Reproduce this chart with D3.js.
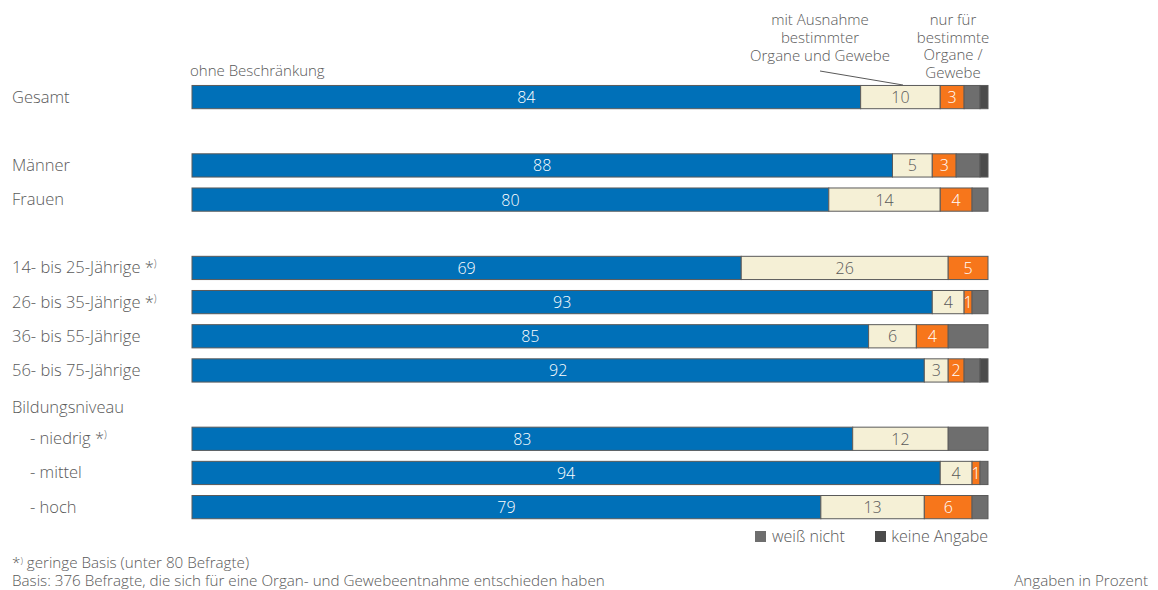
<!DOCTYPE html>
<html><head><meta charset="utf-8">
<script src="https://cdn.jsdelivr.net/npm/d3@7/dist/d3.min.js"></script>
<style>body{margin:0;background:#fff;} text{font-family:"Open Sans",sans-serif;font-weight:300;}</style>
</head><body><svg id="c" width="1158" height="590"></svg>
<script>
const categories = ["Gesamt","Männer","Frauen","14- bis 25-Jährige","26- bis 35-Jährige","36- bis 55-Jährige","56- bis 75-Jährige","- niedrig","- mittel","- hoch"];
const ohneBeschraenkung = [84,88,80,69,93,85,92,83,94,79];
const mitAusnahme      = [10,5,14,26,4,6,3,12,4,13];
const nurFuer          = [3,3,4,5,1,4,2,0,1,6];
const weissNicht       = [2,3,2,0,2,5,2,5,1,2];
const keineAngabe      = [1,1,0,0,0,0,1,0,0,0];
const smallBase        = [false,false,false,true,true,false,false,true,false,false];
const seriesNames = ["ohne Beschränkung","mit Ausnahme bestimmter Organe und Gewebe","nur für bestimmte Organe / Gewebe","weiß nicht","keine Angabe"];
const legendNames = ["weiß nicht","keine Angabe"];
const groupHeader = "Bildungsniveau";
const footnotes = ["geringe Basis (unter 80 Befragte)","Basis: 376 Befragte, die sich für eine Organ- und Gewebeentnahme entschieden haben"];
const unitNote = "Angaben in Prozent";

const colors = ["#0070b8","#f5f0d6","#f7761b","#6e6e6e","#4b4b4b"];
const labelColors = ["#ffffff","#595959","#ffffff",null,null];
const textColor = "#595959";

const svg = d3.select("#c");
const keys = ["s0","s1","s2","s3","s4"];
const table = categories.map((c,i)=>({cat:c, s0:ohneBeschraenkung[i], s1:mitAusnahme[i], s2:nurFuer[i], s3:weissNicht[i], s4:keineAngabe[i], star:smallBase[i]}));

// slot layout: spacer rows between groups
const slots = ["Gesamt","_g1","Männer","Frauen","_g2",categories[3],categories[4],categories[5],categories[6],groupHeader,categories[7],categories[8],categories[9]];
const y = d3.scaleBand().domain(slots).range([80, 80+13*34.17]).paddingInner(0.32).paddingOuter(0.16);
const x = d3.scaleLinear().domain([0,100]).range([192,988]);

const stack = d3.stack().keys(keys)(table);

const g = svg.append("g");
stack.forEach((layer,li)=>{
  layer.forEach(d=>{
    const w = x(d[1])-x(d[0]);
    if (w<=0) return;
    g.append("rect")
      .attr("x", x(d[0])).attr("y", y(d.data.cat))
      .attr("width", w).attr("height", y.bandwidth())
      .attr("fill", colors[li]).attr("stroke","#5a5a5a").attr("stroke-width",1);
    if (labelColors[li]) {
      g.append("text")
        .attr("x",(x(d[0])+x(d[1]))/2).attr("y", y(d.data.cat)+y.bandwidth()/2+6)
        .attr("text-anchor","middle").attr("font-size",16).attr("fill",labelColors[li])
        .text(d[1]-d[0]);
    }
  });
});

// row labels
table.forEach(d=>{
  const indent = d.cat.startsWith("-") ? 30 : 12;
  const t = svg.append("text").attr("x",indent).attr("y",y(d.cat)+y.bandwidth()/2+5.5)
    .attr("font-size",16.5).attr("fill",textColor);
  t.append("tspan").text(d.cat);
  if (d.star) {
    t.append("tspan").text(" *");
    t.append("tspan").attr("font-size",10).attr("dy",-6).text(")");
  }
});
svg.append("text").attr("x",12).attr("y",y(groupHeader)+y.bandwidth()/2+8.5)
  .attr("font-size",16.5).attr("fill",textColor).text(groupHeader);

// series headers
svg.append("text").attr("x",190).attr("y",76).attr("font-size",15).attr("fill",textColor).text(seriesNames[0]);
const h2 = ["mit Ausnahme","bestimmter","Organe und Gewebe"];
const t2 = svg.append("text").attr("text-anchor","middle").attr("font-size",15).attr("fill",textColor);
h2.forEach((l,i)=>t2.append("tspan").attr("x",820).attr("y",25+i*18).text(l));
const h3 = ["nur für","bestimmte","Organe /","Gewebe"];
const t3 = svg.append("text").attr("text-anchor","middle").attr("font-size",15).attr("fill",textColor);
h3.forEach((l,i)=>t3.append("tspan").attr("x",953).attr("y",25+i*17.7).text(l));
svg.append("line").attr("x1",820).attr("y1",71).attr("x2",903).attr("y2",85).attr("stroke","#595959").attr("stroke-width",1);

// legend
svg.append("rect").attr("x",755).attr("y",531).attr("width",11).attr("height",11).attr("fill",colors[3]);
svg.append("text").attr("x",772).attr("y",542).attr("font-size",16).attr("fill",textColor).text(legendNames[0]);
svg.append("rect").attr("x",875).attr("y",531).attr("width",11).attr("height",11).attr("fill",colors[4]);
svg.append("text").attr("x",988).attr("y",542).attr("text-anchor","end").attr("font-size",16).attr("fill",textColor).text(legendNames[1]);

// footnotes
const f1 = svg.append("text").attr("x",12).attr("y",568).attr("font-size",15.2).attr("fill",textColor);
f1.append("tspan").text("*");
f1.append("tspan").attr("font-size",9).attr("dy",-4).text(")");
f1.append("tspan").attr("dy",4).text(" "+footnotes[0]);
svg.append("text").attr("x",12).attr("y",586).attr("font-size",15.2).attr("fill",textColor).text(footnotes[1]);
svg.append("text").attr("x",1148).attr("y",586).attr("text-anchor","end").attr("font-size",15.2).attr("fill",textColor).text(unitNote);
</script></body></html>
